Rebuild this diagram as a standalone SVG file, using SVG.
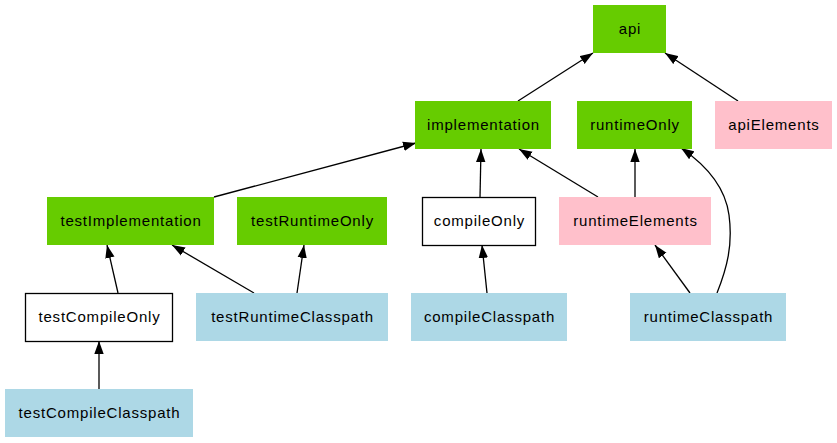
<svg xmlns="http://www.w3.org/2000/svg" width="837" height="443" viewBox="0 0 837 443">
<style>
  .g{fill:#66cc00}
  .p{fill:#ffc0cb}
  .b{fill:#add8e6}
  .w{fill:#ffffff;stroke:#000;stroke-width:1.3}
  text{font-family:"Liberation Sans",Arial,sans-serif;font-size:15px;letter-spacing:0.8px;fill:#000;text-anchor:middle}
  .e{fill:none;stroke:#000;stroke-width:1.3;marker-end:url(#ah)}
</style>
<defs>
  <marker id="ah" markerUnits="userSpaceOnUse" markerWidth="13" markerHeight="10" refX="13" refY="5" orient="auto">
    <path d="M0,0.3 L13,5 L0,9.7 z" fill="#000"/>
  </marker>
</defs>
<rect width="837" height="443" fill="#fff"/>
<g id="connectors">
  <path class="e" d="M518,101 L593,53"/>
  <path class="e" d="M738,101 L665,53"/>
  <path class="e" d="M214,197 L416,143"/>
  <path class="e" d="M480,197 L481,149"/>
  <path class="e" d="M598,197 L519,149"/>
  <path class="e" d="M635,197 L635,149"/>
  <path class="e" d="M717,293 C727,268 733,245 729,215 C725,185 703,163 681,148"/>
  <path class="e" d="M118,293 L107,245"/>
  <path class="e" d="M254,293 L172,245"/>
  <path class="e" d="M297,293 L304,245"/>
  <path class="e" d="M487,293 L482,245"/>
  <path class="e" d="M690,293 L655,245"/>
  <path class="e" d="M99,389 L99,341"/>
</g>
<g id="api"><rect class="g" x="593" y="5" width="73" height="48"/><text x="630" y="34">api</text></g>
<g id="implementation"><rect class="g" x="415" y="101" width="136" height="48"/><text x="483.5" y="130">implementation</text></g>
<g id="runtimeOnly"><rect class="g" x="577" y="101" width="115" height="48"/><text x="635" y="130">runtimeOnly</text></g>
<g id="apiElements"><rect class="p" x="715" y="101" width="117" height="48"/><text x="774" y="130">apiElements</text></g>
<g id="testImplementation"><rect class="g" x="47" y="197" width="167" height="48"/><text x="131" y="226">testImplementation</text></g>
<g id="testRuntimeOnly"><rect class="g" x="237" y="197" width="150" height="48"/><text x="312.5" y="226">testRuntimeOnly</text></g>
<g id="compileOnly"><rect class="w" x="422.5" y="197.5" width="113" height="48"/><text x="479.5" y="226">compileOnly</text></g>
<g id="runtimeElements"><rect class="p" x="559" y="197" width="152" height="48"/><text x="635.5" y="226">runtimeElements</text></g>
<g id="testCompileOnly"><rect class="w" x="25.5" y="293.5" width="147" height="48"/><text x="99.5" y="322">testCompileOnly</text></g>
<g id="testRuntimeClasspath"><rect class="b" x="196" y="293" width="192" height="48"/><text x="292.5" y="322">testRuntimeClasspath</text></g>
<g id="compileClasspath"><rect class="b" x="411" y="293" width="156" height="48"/><text x="489.5" y="322">compileClasspath</text></g>
<g id="runtimeClasspath"><rect class="b" x="630" y="293" width="156" height="48"/><text x="708.5" y="322">runtimeClasspath</text></g>
<g id="testCompileClasspath"><rect class="b" x="5" y="389" width="188" height="48"/><text x="99.5" y="418">testCompileClasspath</text></g>
</svg>
